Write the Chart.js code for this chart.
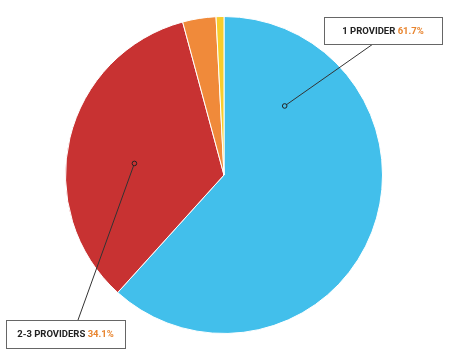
<!DOCTYPE html>
<html>
<head>
<meta charset="utf-8">
<script src="https://cdn.jsdelivr.net/npm/chart.js@4.4.1/dist/chart.umd.min.js"></script>
<style>
  html, body { margin: 0; padding: 0; background: #fff; }
  #wrap { width: 450px; height: 354px; position: relative; }
</style>
</head>
<body>
<div id="wrap"><canvas id="pie"></canvas></div>
<script>
// Share of respondents by number of providers
const categories = ['1 PROVIDER', '2-3 PROVIDERS', '4-5 PROVIDERS', '6+ PROVIDERS'];
const shares = [61.7, 34.1, 3.4, 0.8];
const sliceColors = ['#42bfeb', '#c83232', '#f08a3a', '#f8cd2c'];

// Callout boxes: which slice, where the box sits, where the pin goes inside the slice
const callouts = [
    { index: 0, box: { x: 324, y: 17, w: 118, h: 27 }, lineFrom: [373, 44], sweep: 0.186, depth: 0.58 },
    { index: 1, box: { x: 6, y: 320, w: 119, h: 28 }, lineFrom: [78, 320], sweep: 0.45, depth: 0.57 }
];

const calloutPlugin = {
    id: 'callouts',
    afterDatasetsDraw(chart) {
        const ctx = chart.ctx;
        const arcs = chart.getDatasetMeta(0).data;
        callouts.forEach(c => {
            const arc = arcs[c.index];
            const a = arc.startAngle + (arc.endAngle - arc.startAngle) * c.sweep;
            const r = arc.outerRadius * c.depth;
            const px = arc.x + Math.cos(a) * r;
            const py = arc.y + Math.sin(a) * r;

            // leader line
            ctx.save();
            ctx.strokeStyle = '#333';
            ctx.lineWidth = 1;
            ctx.beginPath();
            ctx.moveTo(c.lineFrom[0], c.lineFrom[1]);
            ctx.lineTo(px, py);
            ctx.stroke();

            // pin
            ctx.beginPath();
            ctx.arc(px, py, 2.3, 0, Math.PI * 2);
            ctx.fillStyle = sliceColors[c.index];
            ctx.fill();
            ctx.strokeStyle = '#222';
            ctx.stroke();

            // box
            const b = c.box;
            ctx.fillStyle = '#fff';
            ctx.fillRect(b.x + 0.5, b.y + 0.5, b.w, b.h);
            ctx.strokeStyle = '#666';
            ctx.strokeRect(b.x + 0.5, b.y + 0.5, b.w, b.h);

            // text: label in dark, value in orange
            ctx.font = 'bold 9.5px Roboto';
            ctx.textBaseline = 'middle';
            const label = categories[c.index] + ' ';
            const value = shares[c.index].toFixed(1) + '%';
            const lw = ctx.measureText(label).width;
            const vw = ctx.measureText(value).width;
            const tx = b.x + (b.w - lw - vw) / 2;
            const ty = b.y + b.h / 2 + 1;
            ctx.fillStyle = '#222';
            ctx.fillText(label, tx, ty);
            ctx.fillStyle = '#e8842e';
            ctx.fillText(value, tx + lw, ty);
            ctx.restore();
        });
    }
};

new Chart(document.getElementById('pie'), {
    type: 'pie',
    data: {
        labels: categories,
        datasets: [{
            data: shares,
            backgroundColor: sliceColors,
            borderColor: '#ffffff',
            borderWidth: 1
        }]
    },
    options: {
        responsive: true,
        maintainAspectRatio: false,
        animation: false,
        layout: { padding: { top: 16, bottom: 20, left: 65, right: 67 } },
        plugins: {
            legend: { display: false },
            tooltip: { enabled: false }
        }
    },
    plugins: [calloutPlugin]
});
</script>
</body>
</html>
